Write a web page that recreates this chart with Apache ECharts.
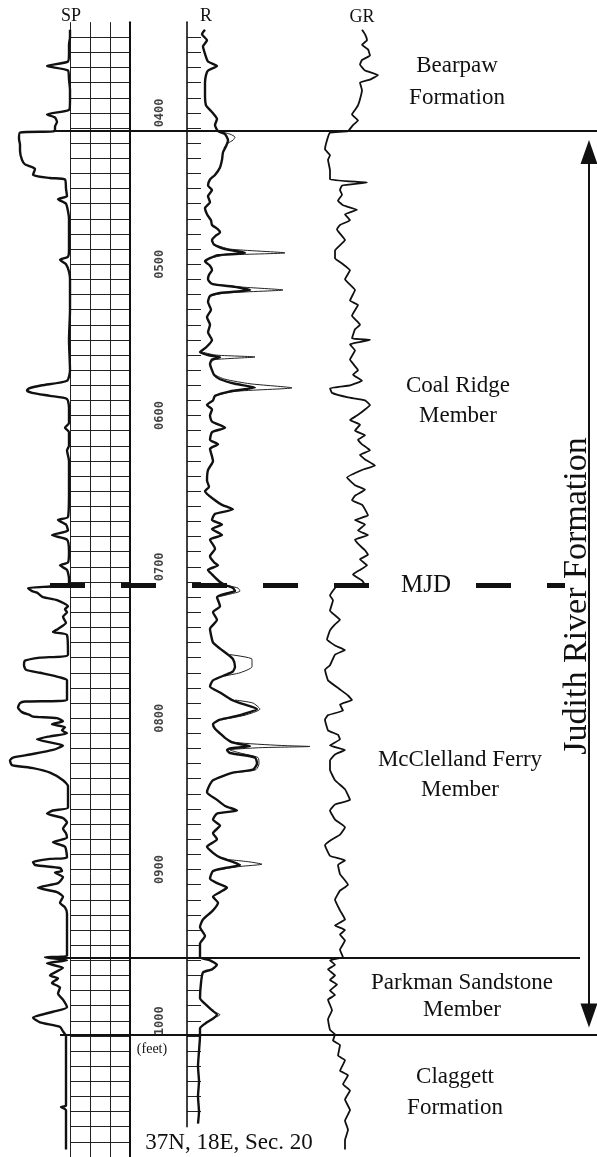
<!DOCTYPE html>
<html>
<head>
<meta charset="utf-8">
<title>Well log 37N, 18E, Sec. 20</title>
<script src="https://cdn.jsdelivr.net/npm/echarts@6.0.0/dist/echarts.min.js"></script>
<style>
html,body{margin:0;padding:0;background:#fff;}
#chart{width:597px;height:1157px;}
</style>
</head>
<body>
<div id="chart"></div>
<script>
// ---------------- data (depth in feet) ----------------
const depthTicks = [400, 500, 600, 700, 800, 900, 1000];
const trackNames = ['SP', 'R', 'GR'];
const formationTops = [412, 958, 1009];   // Judith River top, Parkman top, Claggett top
const mjdDepth = 712;                      // MJD surface
const zoneLines = [
  ['Bearpaw', 'Formation'],
  ['Coal Ridge', 'Member'],
  ['McClelland Ferry', 'Member'],
  ['Parkman Sandstone', 'Member'],
  ['Claggett', 'Formation']
];
const sideLabel = 'Judith River Formation';
const mjdLabel = 'MJD';
const footerLabel = '37N, 18E, Sec. 20';
const unitLabel = '(feet)';

// SP: [depth, deflection from shale line (relative mV)]
const spCurve = [
  [345,0],[350,0],[355,-1],[360,-1],[366,-2],[369,-23],[372,-2],[378,-1],[385,0],[392,0],[398,-1],
  [401,-23],[403,-15],[406,-13],[409,-15],[412,-15],[413,-50],[417,-51],[421,-50],[425,-50],[431,-48],
  [434,-45],[437,-35],[441,-37],[443,-20],[444,-5],[450,-4],[455,-3],[457,-12],[460,-4],[465,-2],
  [470,-1],[480,-1],[490,-1],[495,-2],[497,-10],[500,-4],[505,-1],[510,0],[530,0],[550,-1],[570,0],
  [577,-3],[580,-28],[582,-41],[583.5,-43],[585,-38],[587,-20],[589,-3],[595,-1],[605,-1],[608,-5],
  [611,-1],[620,-1],[623,-3],[630,-1],[650,-1],[667,-2],[669,-12],[672,-4],[676,-2],[679,-18],[682,-3],
  [690,-1],[697,-2],[699,-10],[702,-3],[708,-1],[712,-1],[713,-20],[714,-42],[716,-38],[717,-33],
  [720,-27],[722,-13],[726,-2],[728,-5],[730,-3],[733,-7],[737,-4],[741,-12],[743,-17],[745,-3],
  [758,-2],[760,-30],[762,-45],[765,-46],[768,-44],[770,-30],[773,-10],[775,-3],[788,-3],[789,-45],
  [790,-50],[793,-52],[796,-48],[798,-40],[799,-37],[800,-13],[802,-7],[804,-18],[806,-5],[808,-8],
  [810,-3],[812,-20],[814,-33],[816,-20],[818,-7],[821,-17],[824,-40],[826,-57],[828,-60],[831,-58],
  [833,-37],[836,-20],[841,-7],[845,-2],[859,-2],[861,-17],[863,-23],[866,-7],[869,-3],[873,-7],
  [876,-4],[879,-3],[882,-17],[885,-5],[892,-3],[893,-20],[895,-37],[897,-35],[899,-10],[901,-8],
  [902,-15],[905,-7],[909,-12],[912,-32],[915,-13],[918,-7],[922,-10],[925,-5],[929,-3],[957,-3],
  [958,-25],[960,-3],[962,-23],[965,-7],[970,-20],[972,-12],[975,-18],[978,-10],[982,-12],[986,-7],
  [991,-3],[994,-17],[998,-37],[1001,-30],[1004,-10],[1007,-7],[1010,-4],[1056,-4],[1057,-9],
  [1059,-4],[1085,-4]
];

// Resistivity, deep curve: [depth, relative resistivity]
const rDeep = [
  [345,15],[348,12],[352,17],[356,13],[361,15],[366,18],[369,27],[372,18],[375,16],[380,15],[388,15],
  [395,16],[398,20],[401,24],[404,27],[408,25],[412,28],[414,35],[418,38],[422,36],[426,33],[431,32],
  [436,30],[441,25],[444,20],[448,18],[451,22],[455,18],[459,20],[463,15],[467,17],[471,21],[474,22],
  [477,28],[479,30],[481,26],[484,22],[487,24],[490,35],[492.5,55],[494,28],[496,20],[498,15],[501,20],
  [504,22],[507,19],[510,18],[513,22],[515,45],[517,60],[519,30],[521,20],[525,18],[530,21],[535,17],
  [540,20],[545,18],[550,22],[555,16],[558,10],[560,18],[561.5,30],[563,22],[566,20],[570,22],[573,24],
  [576,30],[579,45],[581.5,65],[584,40],[587,25],[590,23],[593,17],[596,22],[600,20],[604,22],[608,35],
  [611,22],[616,20],[619,28],[622,20],[627,22],[630,23],[636,18],[643,17],[647,19],[650,15],[656,25],
  [659,32],[662,43],[665,25],[669,22],[672,32],[675,22],[679,32],[682,20],[688,25],[693,20],[697,24],
  [699,28],[702,18],[705,22],[707,25],[710,30],[712,35],[714,43],[716,45],[717,40],[720,27],[726,30],
  [730,23],[735,27],[741,20],[745,21],[750,23],[754,30],[758,38],[761,43],[766,45],[769,43],[771,37],
  [775,23],[779,20],[783,30],[788,42],[790,50],[794,67],[798,50],[801,30],[804,23],[807,25],[810,30],
  [813,35],[816,42],[818.5,60],[820,40],[821,37],[823,40],[826,65],[830,67],[834,63],[836,43],[841,23],
  [845,19],[849,17],[854,27],[858,35],[861,47],[863,27],[867,23],[871,30],[876,23],[880,27],[885,17],
  [889,23],[892,30],[895,43],[897,50],[899,35],[901,23],[906,20],[909,27],[912,37],[915,30],[918,23],
  [922,28],[927,23],[933,13],[938,10],[944,15],[949,10],[958,10],[960,20],[963,27],[966,22],[968,13],
  [975,11],[985,10],[990,17],[993,22],[996,27],[999,22],[1001,17],[1005,10],[1010,10],[1020,9],
  [1030,8],[1040,9],[1050,8],[1060,9],[1068,8]
];

// Resistivity, shallow curve (only where it separates from the deep curve; null = gap)
const rShallow = [
  [412,28],[414,40],[416,45],[418,43],[420,38],[423,34], null,
  [487,24],[490,40],[492.5,95],[494,35],[496,20], null,
  [513,22],[515,50],[517,93],[519,35],[521,20], null,
  [558,12],[560,25],[561.3,65],[563,25],[565,20], null,
  [573,24],[576,35],[579,60],[581.7,102],[584,45],[587,25], null,
  [712,35],[714,48],[716,50],[718,40],[720,27], null,
  [758,40],[761,62],[766,62],[770,50],[772,35], null,
  [788,45],[790,63],[794,70],[798,55],[801,32], null,
  [813,35],[816,45],[818,90],[818.7,120],[819.5,70],[821,40],[823,50],[826,68],[830,69],[834,66],[836,45], null,
  [893,32],[895,60],[896.5,72],[898,50],[900,30], null,
  [994,24],[996,30],[998,24]
];

// Gamma ray: [depth, relative API]
const grCurve = [
  [345,62],[348,65],[352,67],[355,62],[358,68],[362,70],[365,62],[368,60],[372,65],[375,78],[378,70],
  [380,60],[385,62],[391,60],[395,58],[398,55],[401,52],[405,58],[408,53],[412,48],[413,30],[418,27],
  [424,25],[428,30],[431,28],[438,30],[444,30],[446,67],[448,42],[451,40],[454,42],[458,38],[461,43],
  [464,57],[467,45],[471,50],[474,40],[477,37],[484,45],[491,35],[496,35],[500,43],[504,50],[510,45],
  [517,55],[524,50],[527,58],[534,52],[540,60],[543,55],[549,52],[550,70],[552,55],[553,50],[557,55],
  [563,50],[570,58],[573,53],[577,62],[580,50],[582,30],[585,32],[588,48],[590,65],[593,70],[596,65],
  [600,57],[603,50],[606,60],[610,55],[613,65],[616,58],[619,62],[623,70],[626,60],[629,65],[633,75],
  [636,62],[641,47],[646,55],[649,65],[653,55],[656,52],[659,62],[662,65],[666,68],[669,55],[672,65],
  [676,58],[679,68],[682,55],[686,60],[689,65],[692,68],[695,60],[699,67],[702,60],[705,53],[709,62],
  [712,65],[713,37],[714,35],[719,30],[722,33],[729,30],[732,35],[735,40],[738,35],[742,30],[748,27],
  [752,35],[755,45],[758,35],[765,30],[768,25],[775,28],[781,40],[785,48],[788,52],[791,40],[795,43],
  [798,28],[801,25],[808,28],[811,38],[814,40],[818,30],[821,45],[824,35],[828,30],[834,30],[841,35],
  [847,45],[854,50],[857,35],[861,30],[867,35],[872,45],[877,40],[881,30],[884,25],[891,30],[894,45],
  [897,38],[903,40],[910,48],[914,40],[920,35],[927,40],[933,45],[937,35],[940,45],[943,40],[947,45],
  [953,40],[958,43],[960,30],[963,35],[966,28],[970,35],[973,30],[976,37],[980,30],[983,35],[986,28],
  [993,32],[999,28],[1006,30],[1009,35],[1013,33],[1016,40],[1023,38],[1026,45],[1033,40],[1036,48],
  [1042,43],[1046,50],[1052,45],[1059,50],[1066,45],[1072,48],[1079,45],[1085,45]
];

// ---------------- chart ----------------
const chart = echarts.init(document.getElementById('chart'), null, {renderer: 'canvas', width: 597, height: 1157});

const INK = '#111';
const SERIF = '"Liberation Serif","Times New Roman",serif';
const DMIN = 330, DMAX = 1090, TOP = 7, HEIGHT = 1150;
const PX = HEIGHT / (DMAX - DMIN);
const yOf = d => TOP + (d - DMIN) * PX;

const toXY = arr => arr.map(p => (p === null ? ['-', '-'] : [p[1], p[0]]));

const hidden = {axisLine: {show: false}, axisTick: {show: false}, axisLabel: {show: false}, splitLine: {show: false}};
function depthAxis(gi) {
  return Object.assign({type: 'value', gridIndex: gi, min: DMIN, max: DMAX, inverse: true, show: false}, hidden);
}
function valAxis(gi, min, max) {
  return Object.assign({type: 'value', gridIndex: gi, min: min, max: max, show: false}, hidden);
}

const PAPER_TOP = 340, RPAPER_BOT = 1070;
const grids = [
  {left: 0, top: TOP, width: 135, height: HEIGHT},          // 0 SP curve
  {left: 190, top: TOP, width: 130, height: HEIGHT},        // 1 R curves
  {left: 300, top: TOP, width: 100, height: HEIGHT},        // 2 GR curve
  {left: 70, top: yOf(PAPER_TOP), width: 60, height: (DMAX - PAPER_TOP) * PX},          // 3 SP paper
  {left: 187, top: yOf(PAPER_TOP), width: 14, height: (RPAPER_BOT - PAPER_TOP) * PX},   // 4 R paper
  {left: 140, top: TOP, width: 40, height: HEIGHT},         // 5 depth labels
  {left: 0, top: TOP, width: 597, height: HEIGHT}           // 6 overlay
].map(g => Object.assign({outerBoundsMode: 'none', containLabel: false, show: false}, g));

const paperLine = {color: '#222', width: 1};

const xAxes = [
  valAxis(0, -70, 65),
  valAxis(1, 0, 130),
  valAxis(2, 0, 100),
  {type: 'value', gridIndex: 3, min: 0, max: 60, interval: 20, axisLine: {show: false}, axisTick: {show: false},
   axisLabel: {show: false}, splitLine: {show: true, lineStyle: paperLine}},
  valAxis(4, 0, 1),
  valAxis(5, 0, 1),
  valAxis(6, 0, 597)
];
const yAxes = [
  depthAxis(0), depthAxis(1), depthAxis(2),
  {type: 'value', gridIndex: 3, min: PAPER_TOP, max: DMAX, interval: 10, inverse: true, position: 'right',
   axisLine: {show: true, onZero: false, lineStyle: {color: INK, width: 2}}, axisTick: {show: false},
   axisLabel: {show: false}, splitLine: {show: true, showMinLine: false, lineStyle: paperLine}},
  {type: 'value', gridIndex: 4, min: PAPER_TOP, max: RPAPER_BOT, interval: 10, inverse: true, position: 'left',
   axisLine: {show: true, onZero: false, lineStyle: {color: INK, width: 1.6}}, axisTick: {show: false},
   axisLabel: {show: false}, splitLine: {show: true, showMinLine: false, showMaxLine: false, lineStyle: paperLine}},
  depthAxis(5), depthAxis(6)
];

const curveBase = {type: 'line', symbol: 'none', smooth: 0.2, connectNulls: false, animation: false, silent: true, z: 4};

const arrowTop = formationTops[0] + 21 / PX;
const arrowBase = formationTops[2] - 19 / PX;
const tri = 'path://M5,0L10,14L0,14Z';

const series = [
  Object.assign({}, curveBase, {xAxisIndex: 0, yAxisIndex: 0, data: toXY(spCurve), lineStyle: {color: INK, width: 2.4}}),
  Object.assign({}, curveBase, {xAxisIndex: 1, yAxisIndex: 1, data: toXY(rShallow), lineStyle: {color: '#222', width: 1}}),
  Object.assign({}, curveBase, {xAxisIndex: 1, yAxisIndex: 1, data: toXY(rDeep), lineStyle: {color: INK, width: 2.4}}),
  Object.assign({}, curveBase, {xAxisIndex: 2, yAxisIndex: 2, data: toXY(grCurve), smooth: 0.1, lineStyle: {color: INK, width: 1.8}}),
  {type: 'scatter', xAxisIndex: 5, yAxisIndex: 5, silent: true, animation: false, symbolSize: 1,
   itemStyle: {color: 'rgba(0,0,0,0)'},
   data: depthTicks.map(d => [0.5, d]),
   label: {show: true, position: 'inside', rotate: 90, color: INK, fontFamily: '"DejaVu Sans Mono",monospace',
           fontSize: 12, fontWeight: 'bold', formatter: p => String(p.value[1]).padStart(4, '0')}},
  {type: 'line', xAxisIndex: 6, yAxisIndex: 6, data: [], silent: true, animation: false,
   markLine: {silent: true, animation: false, symbol: ['none', 'none'], label: {show: false},
     lineStyle: {color: INK, width: 2, type: 'solid'},
     emphasis: {disabled: true},
     data: [
       [{coord: [53, formationTops[0]]}, {coord: [597, formationTops[0]]}],
       [{coord: [50, mjdDepth], lineStyle: {color: INK, width: 5, type: [35, 36]}}, {coord: [565, mjdDepth]}],
       [{coord: [48, formationTops[1]]}, {coord: [580, formationTops[1]]}],
       [{coord: [60, formationTops[2]]}, {coord: [597, formationTops[2]]}]
     ]}},
  {type: 'line', xAxisIndex: 6, yAxisIndex: 6, data: [], silent: true, animation: false,
   markLine: {silent: true, animation: false, symbol: [tri, tri], symbolSize: [17, 24], label: {show: false},
     itemStyle: {color: INK}, lineStyle: {color: INK, width: 2, type: 'solid'}, emphasis: {disabled: true},
     data: [[{coord: [589, arrowTop]}, {coord: [589, arrowBase]}]]}}
];

function txt(x, y, s, size, extra) {
  const el = {type: 'text', x: x, y: y, z: 20, silent: true,
    style: {text: s, fill: INK, font: size + 'px ' + SERIF, align: 'center', verticalAlign: 'middle'}};
  if (extra) {
    if (extra.style) Object.assign(el.style, extra.style);
    if (extra.rotation != null) el.rotation = extra.rotation;
  }
  return el;
}

const zoneLayout = [
  {x: 457, y: 66, gap: 32},
  {x: 458, y: 386, gap: 30},
  {x: 460, y: 760, gap: 30},
  {x: 462, y: 983, gap: 27},
  {x: 455, y: 1077, gap: 31}
];
const trackLayout = [{x: 71, y: 16}, {x: 206, y: 16}, {x: 362, y: 17}];

const graphics = [];
zoneLines.forEach((lines, i) => {
  const L = zoneLayout[i];
  lines.forEach((s, j) => graphics.push(txt(L.x, L.y + j * L.gap, s, 23)));
});
trackNames.forEach((s, i) => graphics.push(txt(trackLayout[i].x, trackLayout[i].y, s, 18)));
graphics.push(txt(426, yOf(mjdDepth), mjdLabel, 25, {style: {backgroundColor: '#fff', padding: [2, 8]}}));
graphics.push(txt(577, 596, sideLabel, 34, {rotation: Math.PI / 2}));
graphics.push(txt(229, 1143, footerLabel, 23));
graphics.push(txt(152, 1049, unitLabel, 14));

chart.setOption({
  backgroundColor: '#fff',
  animation: false,
  grid: grids,
  xAxis: xAxes,
  yAxis: yAxes,
  series: series,
  graphic: graphics
});
</script>
</body>
</html>
